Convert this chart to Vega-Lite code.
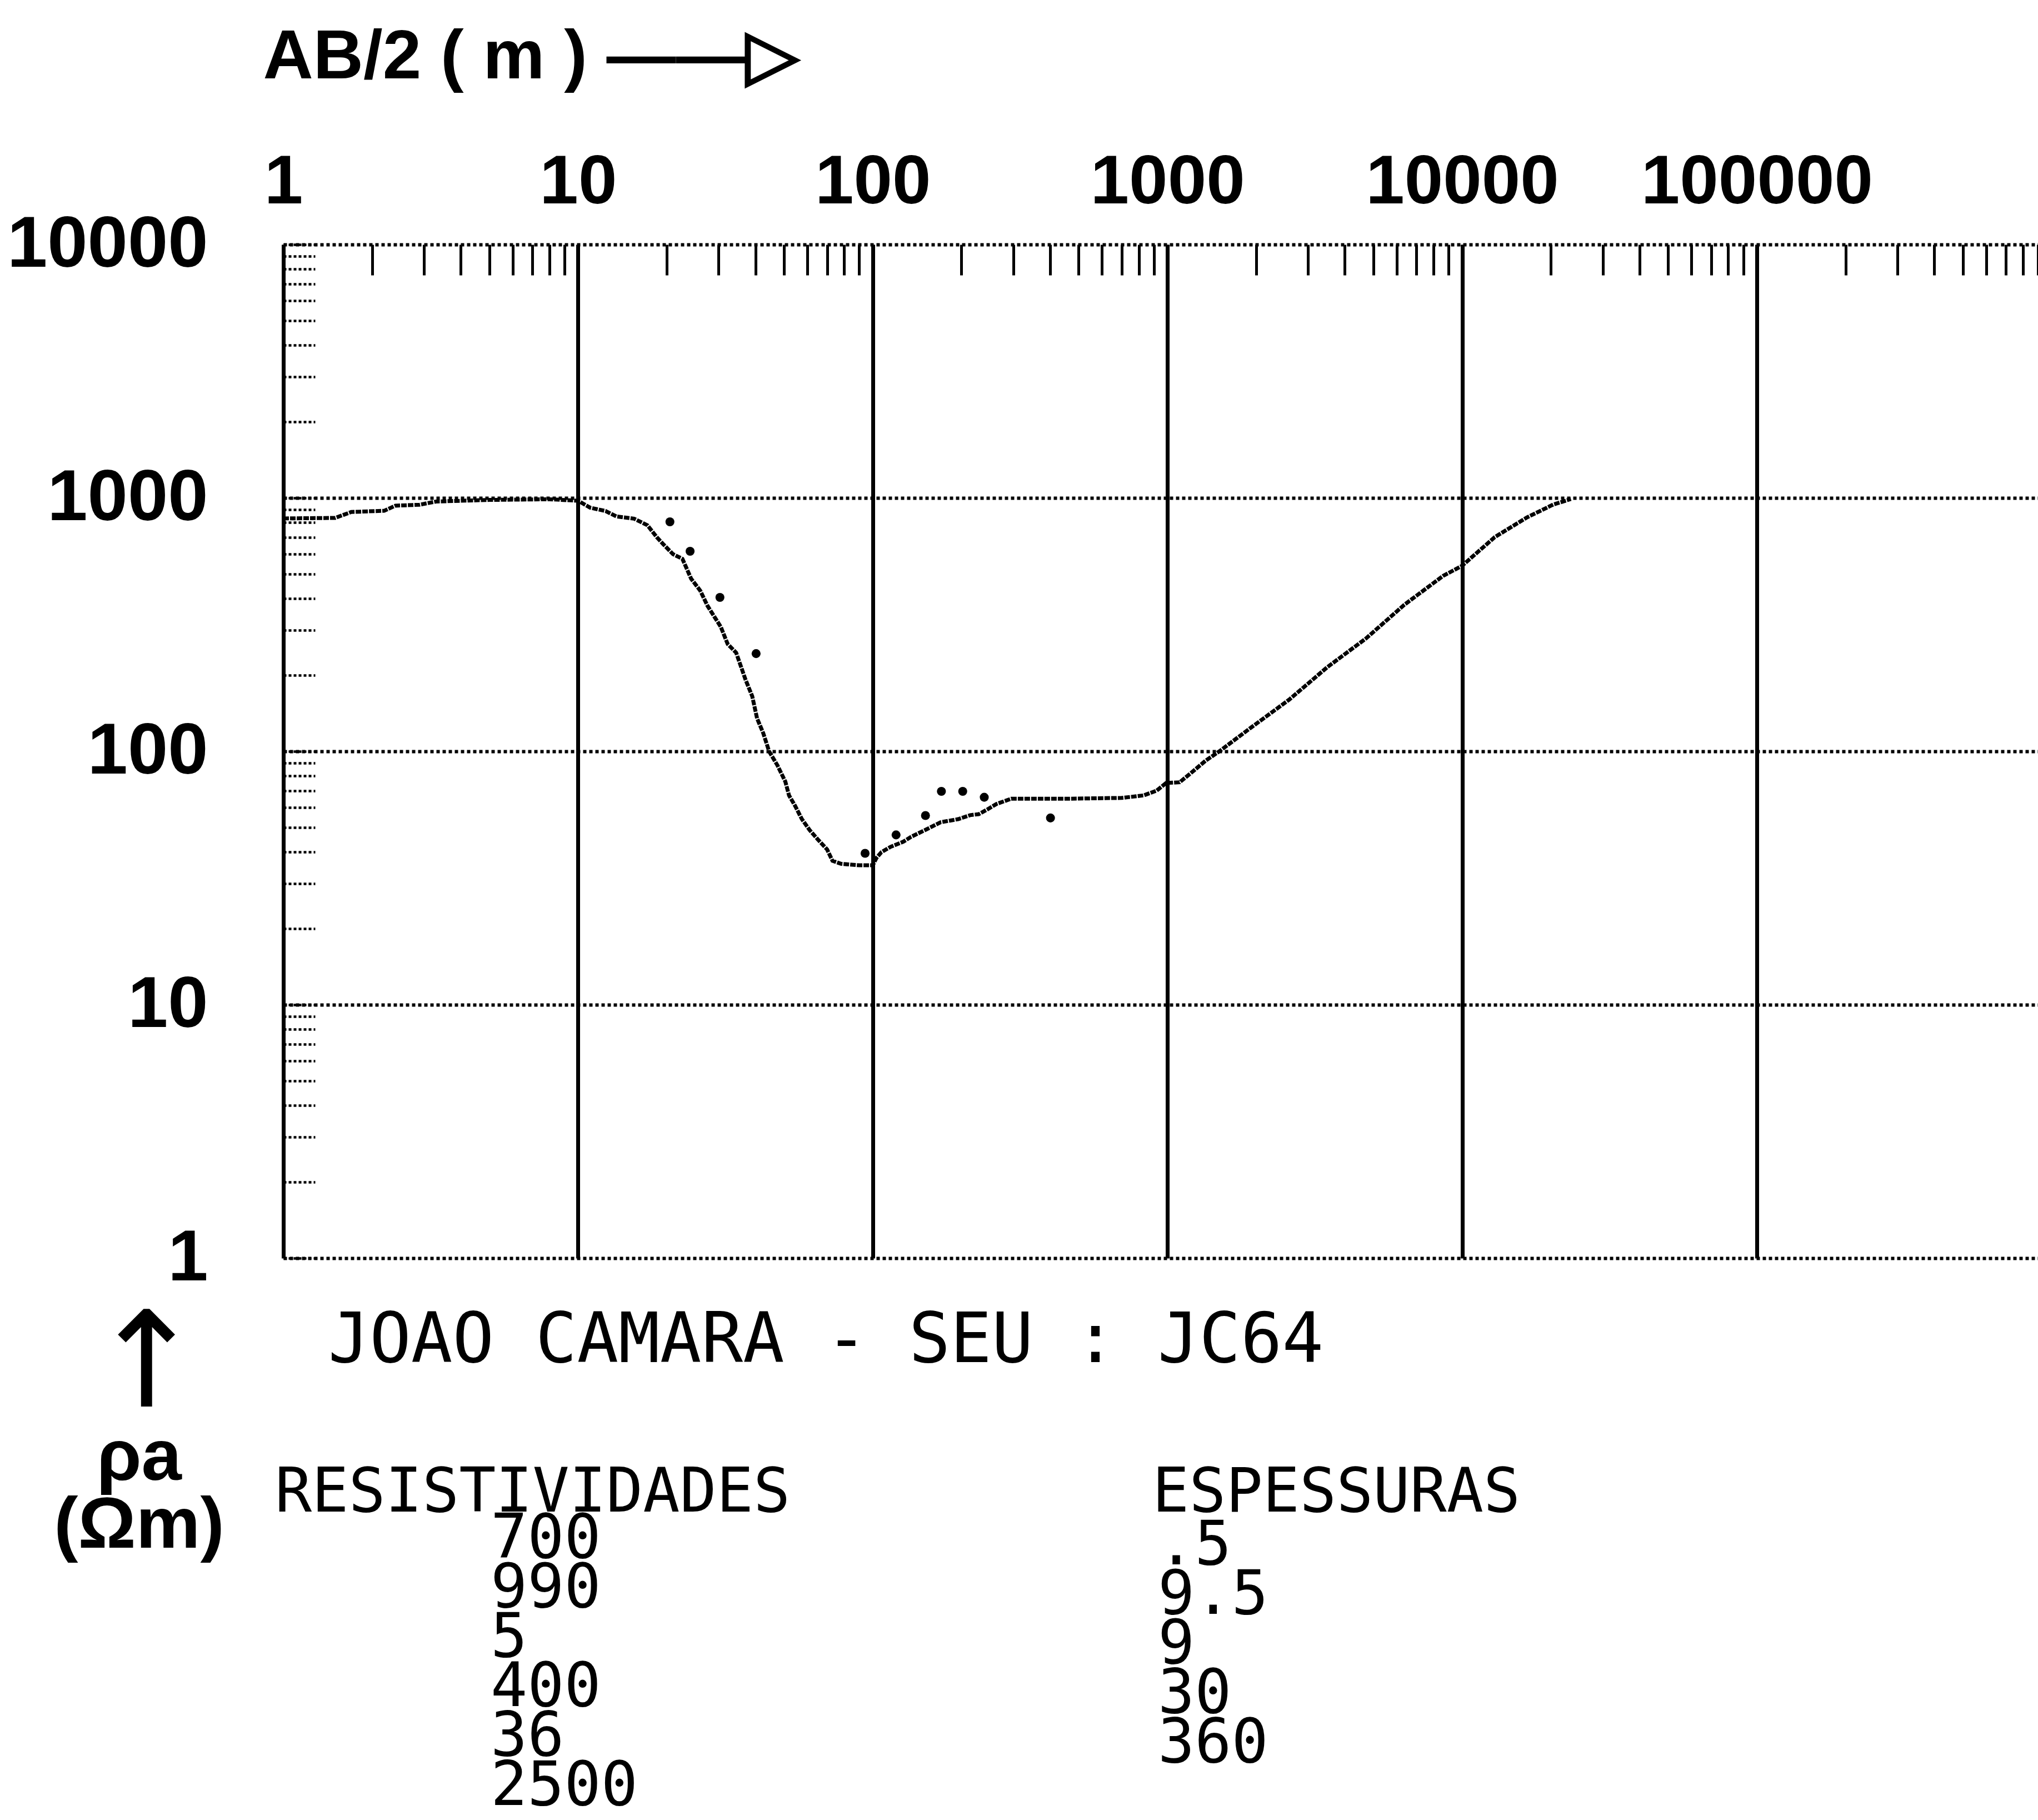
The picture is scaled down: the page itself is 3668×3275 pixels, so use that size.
{
  "$schema": "https://vega.github.io/schema/vega-lite/v6.json",
  "width": 3158,
  "height": 1824,
  "autosize": {"type": "none"},
  "padding": {"left": 510, "top": 440, "right": 0, "bottom": 1011},
  "background": "white",
  "config": {"view": {"stroke": null}},
  "datasets": {
    "curva": [
      {"ab2": 1, "rho": 830}, {"ab2": 1.5, "rho": 834}, {"ab2": 1.7, "rho": 880}, {"ab2": 2.2, "rho": 890},
      {"ab2": 2.4, "rho": 932}, {"ab2": 2.9, "rho": 940}, {"ab2": 3.3, "rho": 968}, {"ab2": 5, "rho": 982},
      {"ab2": 8, "rho": 988}, {"ab2": 10, "rho": 975}, {"ab2": 11, "rho": 915}, {"ab2": 12.4, "rho": 888},
      {"ab2": 13.5, "rho": 845}, {"ab2": 15.5, "rho": 828}, {"ab2": 17.2, "rho": 780}, {"ab2": 18.5, "rho": 700},
      {"ab2": 19.5, "rho": 655}, {"ab2": 21, "rho": 600}, {"ab2": 22.6, "rho": 575}, {"ab2": 24.2, "rho": 480},
      {"ab2": 26, "rho": 430}, {"ab2": 27.5, "rho": 375}, {"ab2": 30.5, "rho": 310}, {"ab2": 32.2, "rho": 265},
      {"ab2": 34.4, "rho": 245}, {"ab2": 37, "rho": 192}, {"ab2": 39, "rho": 165}, {"ab2": 40.5, "rho": 135},
      {"ab2": 42.5, "rho": 118}, {"ab2": 44.5, "rho": 100}, {"ab2": 47.5, "rho": 88}, {"ab2": 50.5, "rho": 76},
      {"ab2": 52, "rho": 67}, {"ab2": 54.5, "rho": 61}, {"ab2": 57.5, "rho": 54}, {"ab2": 61, "rho": 49},
      {"ab2": 65, "rho": 45}, {"ab2": 70, "rho": 41}, {"ab2": 73, "rho": 37}, {"ab2": 78, "rho": 36},
      {"ab2": 90, "rho": 35.5}, {"ab2": 100, "rho": 35.5}, {"ab2": 103, "rho": 38}, {"ab2": 107, "rho": 40},
      {"ab2": 115, "rho": 42}, {"ab2": 127, "rho": 44}, {"ab2": 135, "rho": 46}, {"ab2": 151, "rho": 49},
      {"ab2": 170, "rho": 52.5}, {"ab2": 195, "rho": 54}, {"ab2": 214, "rho": 56}, {"ab2": 229, "rho": 56.5},
      {"ab2": 245, "rho": 59}, {"ab2": 263, "rho": 62}, {"ab2": 295, "rho": 65}, {"ab2": 450, "rho": 65},
      {"ab2": 700, "rho": 65.5}, {"ab2": 830, "rho": 67}, {"ab2": 920, "rho": 70}, {"ab2": 990, "rho": 75},
      {"ab2": 1100, "rho": 75.5}, {"ab2": 1200, "rho": 82}, {"ab2": 1350, "rho": 92}, {"ab2": 1500, "rho": 100},
      {"ab2": 1920, "rho": 124}, {"ab2": 2590, "rho": 160}, {"ab2": 3490, "rho": 215}, {"ab2": 4720, "rho": 279},
      {"ab2": 6370, "rho": 379}, {"ab2": 8610, "rho": 492}, {"ab2": 10000, "rho": 540}, {"ab2": 12900, "rho": 700},
      {"ab2": 16600, "rho": 838}, {"ab2": 20400, "rho": 942}, {"ab2": 23400, "rho": 990}
    ],
    "medidas": [
      {"ab2": 20.5, "rho": 805}, {"ab2": 24, "rho": 616}, {"ab2": 30.3, "rho": 405}, {"ab2": 40.2, "rho": 243},
      {"ab2": 94.2, "rho": 39.6}, {"ab2": 120, "rho": 46.8}, {"ab2": 151, "rho": 55.8}, {"ab2": 171, "rho": 69.5},
      {"ab2": 202, "rho": 69.5}, {"ab2": 239, "rho": 65.9}, {"ab2": 401, "rho": 54.6}
    ],
    "modelo": [
      {"camada": 1, "RESISTIVIDADES": "700", "ESPESSURAS": ".5"},
      {"camada": 2, "RESISTIVIDADES": "990", "ESPESSURAS": "9.5"},
      {"camada": 3, "RESISTIVIDADES": "5", "ESPESSURAS": "9"},
      {"camada": 4, "RESISTIVIDADES": "400", "ESPESSURAS": "30"},
      {"camada": 5, "RESISTIVIDADES": "36", "ESPESSURAS": "360"},
      {"camada": 6, "RESISTIVIDADES": "2500"}
    ]
  },
  "layer": [
    {
      "encoding": {
        "x": {
          "field": "ab2", "type": "quantitative",
          "scale": {"type": "log", "domain": [1, 900000], "nice": false},
          "axis": {
            "orient": "top",
            "values": [1,2,3,4,5,6,7,8,9,10,20,30,40,50,60,70,80,90,100,200,300,400,500,600,700,800,900,1000,2000,3000,4000,5000,6000,7000,8000,9000,10000,20000,30000,40000,50000,60000,70000,80000,90000,100000,200000,300000,400000,500000,600000,700000,800000,900000],
            "domain": false,
            "ticks": true, "tickSize": -55, "tickColor": "black", "tickWidth": 5,
            "grid": true, "gridColor": "black", "gridWidth": 7,
            "gridOpacity": {"condition": {"test": "indexof([1,10,100,1000,10000,100000], datum.value) >= 0", "value": 1}, "value": 0},
            "labelExpr": "indexof([1,10,100,1000,10000,100000], datum.value) >= 0 ? '' + datum.value : ''",
            "labelFont": "Liberation Sans", "labelFontWeight": "bold", "labelFontSize": 125, "labelColor": "black", "labelLimit": 0,
            "labelPadding": 130, "labelBaseline": "alphabetic", "labelOverlap": false, "labelFlush": false, "labelBound": false,
            "title": "AB/2 ( m ) ——▷",
            "titleFont": "Liberation Sans", "titleFontWeight": "bold", "titleFontSize": 125, "titleColor": "black",
            "titleAngle": 0, "titleAlign": "left", "titleBaseline": "alphabetic", "titleX": -37, "titleY": -300
          }
        },
        "y": {
          "field": "rho", "type": "quantitative",
          "scale": {"type": "log", "domain": [1, 10000], "nice": false},
          "axis": {
            "orient": "left",
            "values": [1,2,3,4,5,6,7,8,9,10,20,30,40,50,60,70,80,90,100,200,300,400,500,600,700,800,900,1000,2000,3000,4000,5000,6000,7000,8000,9000,10000],
            "domain": false,
            "ticks": true, "tickSize": -57, "tickColor": "black", "tickWidth": 4.5, "tickDash": [5, 4],
            "grid": true, "gridColor": "black", "gridWidth": 6, "gridDash": [6, 5],
            "gridOpacity": {"condition": {"test": "indexof([1,10,100,1000,10000,100000], datum.value) >= 0", "value": 1}, "value": 0},
            "labelExpr": "indexof([1,10,100,1000,10000,100000], datum.value) >= 0 ? '' + datum.value : ''",
            "labelFont": "Liberation Sans", "labelFontWeight": "bold", "labelFontSize": 130, "labelColor": "black", "labelLimit": 0,
            "labelPadding": 193, "labelAlign": "right", "labelBaseline": "middle", "labelOverlap": false, "labelFlush": false, "labelBound": false,
            "title": ["ρa", "(Ωm)"],
            "titleFont": "Liberation Sans", "titleFontWeight": "bold", "titleFontSize": 130, "titleLineHeight": 122, "titleColor": "black",
            "titleAngle": 0, "titleAlign": "center", "titleBaseline": "alphabetic", "titleX": -260, "titleY": 2222
          }
        }
      },
      "layer": [
        {
          "data": {"name": "curva"},
          "mark": {"type": "line", "color": "black", "strokeWidth": 7, "strokeDash": [10, 2]}
        },
        {
          "data": {"name": "medidas"},
          "mark": {"type": "point", "shape": "circle", "filled": true, "color": "black", "opacity": 1, "size": 260}
        }
      ]
    },
    {
      "data": {"name": "modelo"},
      "transform": [{"fold": ["RESISTIVIDADES", "ESPESSURAS"], "as": ["coluna", "valor"]}],
      "encoding": {
        "x": {
          "field": "coluna", "type": "nominal", "bandPosition": 0,
          "scale": {"type": "band", "domain": ["RESISTIVIDADES", "ESPESSURAS"], "paddingInner": 0, "paddingOuter": 0},
          "axis": {
            "orient": "bottom", "domain": false, "ticks": false, "labels": false, "grid": false,
            "title": "JOAO CAMARA - SEU : JC64",
            "titleFont": "DejaVu Sans Mono", "titleFontSize": 124, "titleFontWeight": "normal", "titleColor": "black",
            "titleAngle": 0, "titleAlign": "left", "titleBaseline": "alphabetic", "titleX": 80, "titleY": 186
          }
        },
        "y": {
          "field": "camada", "type": "quantitative",
          "scale": {"domain": [1, 6], "range": [2363, 2808], "nice": false, "zero": false},
          "axis": {
            "orient": "left", "domain": false, "ticks": false, "labels": false, "grid": false,
            "title": "↑",
            "titleFont": "DejaVu Sans", "titleFontSize": 240, "titleFontWeight": "normal", "titleColor": "black",
            "titleAngle": 0, "titleAlign": "center", "titleBaseline": "alphabetic", "titleX": -247, "titleY": 2090
          }
        }
      },
      "layer": [
        {
          "transform": [{"filter": "datum.camada == 1"}],
          "mark": {"type": "text", "font": "DejaVu Sans Mono", "fontSize": 110, "align": "left", "baseline": "alphabetic", "color": "black", "dx": -15, "dy": -83},
          "encoding": {"text": {"field": "coluna"}}
        },
        {
          "transform": [{"filter": "datum.coluna == 'RESISTIVIDADES' && isValid(datum.valor)"}],
          "mark": {"type": "text", "font": "DejaVu Sans Mono", "fontSize": 110, "align": "left", "baseline": "alphabetic", "color": "black", "dx": 373},
          "encoding": {"text": {"field": "valor"}}
        },
        {
          "transform": [{"filter": "datum.coluna == 'ESPESSURAS' && isValid(datum.valor)"}],
          "mark": {"type": "text", "font": "DejaVu Sans Mono", "fontSize": 110, "align": "left", "baseline": "alphabetic", "color": "black", "dx": -5, "dy": 12},
          "encoding": {"text": {"field": "valor"}}
        }
      ]
    }
  ],
  "resolve": {"scale": {"x": "independent", "y": "independent"}}
}
